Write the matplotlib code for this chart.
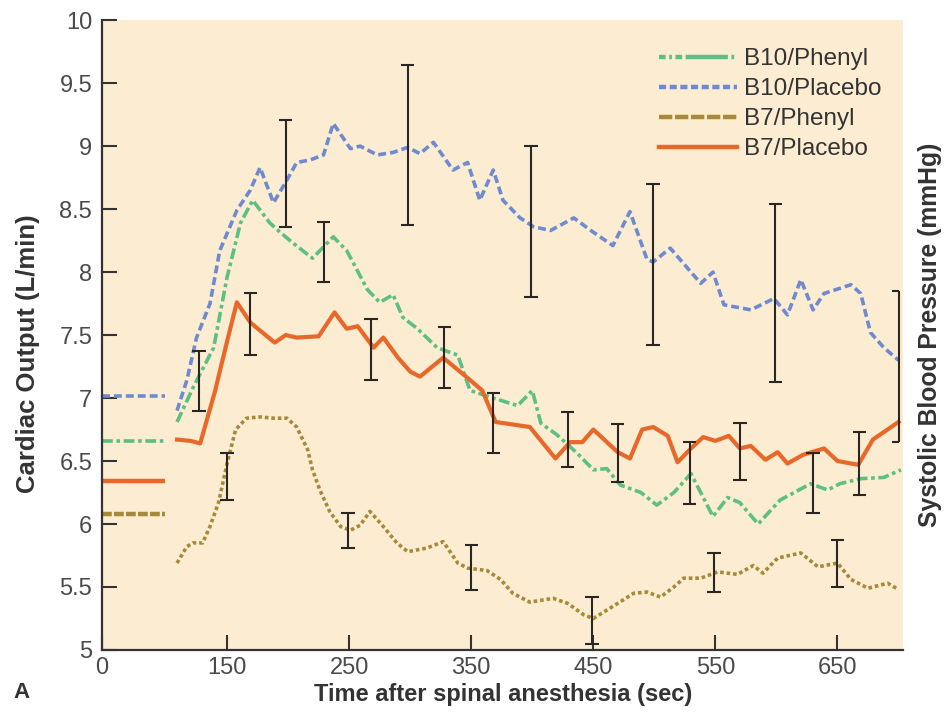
import numpy as np
import matplotlib.pyplot as plt
from matplotlib.lines import Line2D

plt.rcParams['font.family'] = ['Liberation Sans', 'DejaVu Sans']

# baseline values (left of the axis break)
base_b10_phenyl = 6.66
base_b10_placebo = 7.02
base_b7_phenyl = 6.08
base_b7_placebo = 6.34

# B10/Phenyl
t_b10_phenyl = [109, 122, 139, 150, 161, 171, 185, 193, 204, 220, 237, 248, 265, 275, 286,
                294, 306, 322, 339, 349, 368, 388, 400, 407, 420, 437, 450, 461, 472, 489,
                502, 516, 530, 548, 560, 570, 585, 603, 628, 642, 652, 669, 688, 702]
v_b10_phenyl = [6.81, 7.08, 7.4, 7.96, 8.39, 8.57, 8.39, 8.32, 8.23, 8.11, 8.28, 8.17, 7.86,
                7.76, 7.82, 7.64, 7.55, 7.4, 7.34, 7.06, 7.0, 6.94, 7.06, 6.8, 6.71, 6.56,
                6.43, 6.44, 6.31, 6.25, 6.15, 6.25, 6.4, 6.06, 6.21, 6.17, 6.0, 6.19, 6.32,
                6.27, 6.32, 6.36, 6.37, 6.43]

# B10/Placebo
t_b10_placebo = [109, 117, 125, 136, 144, 158, 169, 177, 188, 199, 207, 218, 229, 237, 251,
                 259, 273, 286, 298, 308, 319, 335, 347, 357, 368, 376, 390, 401, 415, 434,
                 448, 466, 480, 494, 499, 513, 538, 548, 557, 579, 598, 609, 620, 630, 639,
                 661, 669, 677, 688, 700]
v_b10_placebo = [6.9, 7.14, 7.48, 7.75, 8.17, 8.49, 8.65, 8.83, 8.55, 8.73, 8.87, 8.89, 8.93,
                 9.18, 8.98, 9.0, 8.93, 8.95, 8.99, 8.94, 9.03, 8.81, 8.87, 8.57, 8.81, 8.57,
                 8.43, 8.36, 8.33, 8.43, 8.33, 8.21, 8.48, 8.1, 8.08, 8.19, 7.91, 8.0, 7.74,
                 7.7, 7.79, 7.66, 7.94, 7.7, 7.83, 7.9, 7.83, 7.52, 7.4, 7.3]

# B7/Phenyl
t_b7_phenyl = [109, 117, 122, 130, 136, 143, 150, 157, 166, 177, 188, 199, 207, 216, 220,
               226, 234, 243, 251, 259, 267, 278, 289, 298, 314, 327, 339, 347, 363, 374,
               384, 398, 417, 429, 442, 450, 470, 483, 494, 505, 516, 524, 538, 552, 568,
               581, 589, 601, 620, 634, 650, 661, 675, 691, 700]
v_b7_phenyl = [5.69, 5.82, 5.85, 5.85, 5.98, 6.17, 6.48, 6.75, 6.84, 6.85, 6.84, 6.84, 6.77,
               6.59, 6.43, 6.27, 6.1, 5.98, 5.95, 5.99, 6.1, 5.98, 5.85, 5.78, 5.81, 5.86,
               5.69, 5.65, 5.63, 5.56, 5.45, 5.38, 5.41, 5.37, 5.28, 5.25, 5.37, 5.45, 5.46,
               5.42, 5.5, 5.57, 5.57, 5.62, 5.6, 5.67, 5.61, 5.73, 5.77, 5.66, 5.69, 5.56,
               5.49, 5.53, 5.48]

# B7/Placebo
t_b7_placebo = [109, 120, 128, 140, 150, 158, 169, 179, 189, 198, 207, 225, 238, 248, 257,
                270, 278, 290, 300, 308, 327, 347, 359, 370, 398, 419, 431, 441, 450, 470,
                480, 490, 499, 511, 519, 530, 540, 550, 561, 570, 579, 591, 601, 609, 622,
                639, 650, 667, 679, 700]
v_b7_placebo = [6.67, 6.66, 6.64, 7.05, 7.45, 7.76, 7.6, 7.52, 7.44, 7.5, 7.48, 7.49, 7.68,
                7.55, 7.57, 7.4, 7.48, 7.32, 7.21, 7.17, 7.32, 7.16, 7.06, 6.81, 6.77, 6.52,
                6.65, 6.65, 6.75, 6.57, 6.52, 6.75, 6.77, 6.7, 6.49, 6.6, 6.69, 6.66, 6.7,
                6.6, 6.62, 6.51, 6.57, 6.48, 6.55, 6.6, 6.5, 6.47, 6.67, 6.81]

# error bars: x, top, bottom
err_t = [127, 150, 169, 198, 229, 249, 268, 298, 328, 350, 368, 399, 429, 449, 470, 499,
         529, 549, 570, 599, 630, 650, 668]
err_top = [7.37, 6.56, 7.83, 9.21, 8.4, 6.09, 7.63, 9.64, 7.56, 5.83, 7.04, 9.0, 6.89, 5.42,
           6.79, 8.7, 6.65, 5.77, 6.8, 8.54, 6.56, 5.87, 6.73]
err_bot = [6.9, 6.19, 7.34, 8.36, 7.92, 5.81, 7.14, 8.37, 7.08, 5.48, 6.56, 7.8, 6.45, 5.05,
           6.33, 7.42, 6.16, 5.46, 6.35, 7.13, 6.09, 5.5, 6.23]
# last bar at the right edge, drawn with a half cap
edge_t, edge_top, edge_bot = 700, 7.85, 6.65

x_ticks = [47.5, 150, 250, 350, 450, 550, 650]
x_labels = ['0', '150', '250', '350', '450', '550', '650']
y_ticks = [5, 5.5, 6, 6.5, 7, 7.5, 8, 8.5, 9, 9.5, 10]
y_labels = ['5', '5.5', '6', '6.5', '7', '7.5', '8', '8.5', '9', '9.5', '10']

c_green = '#5DBF83'
c_blue = '#6F8AD0'
c_olive = '#A68A3A'
c_orange = '#E8682A'
c_bar = '#2b2622'
c_text = '#333333'

fig = plt.figure(figsize=(9.44, 7.19), dpi=100)
ax = fig.add_axes([0.108, 0.096, 0.849, 0.876])
ax.set_facecolor('#FCEDD2')

lw = 2.6
base_x = [47.5, 99]
ax.plot(base_x, [base_b10_placebo] * 2, color=c_blue, lw=lw, dashes=(2.2, 1.1))
ax.plot(base_x, [base_b10_phenyl] * 2, color=c_green, lw=lw, dashes=(3.0, 1.0, 1.0, 1.0))
ax.plot(base_x, [base_b7_placebo] * 2, color=c_orange, lw=lw + 0.6, solid_capstyle='butt')
ax.plot(base_x, [base_b7_phenyl] * 2, color=c_olive, lw=lw + 0.6, dashes=(2.2, 0.5))

ax.plot(t_b10_placebo, v_b10_placebo, color=c_blue, lw=lw, dashes=(2.2, 1.1))
ax.plot(t_b10_phenyl, v_b10_phenyl, color=c_green, lw=lw, dashes=(3.0, 1.0, 1.0, 1.0))
ax.plot(t_b7_phenyl, v_b7_phenyl, color=c_olive, lw=lw, dashes=(1.0, 0.8))
ax.plot(t_b7_placebo, v_b7_placebo, color=c_orange, lw=lw + 0.4)

# error bars
cap = 5.5
ax.vlines(err_t, err_bot, err_top, color=c_bar, lw=1.5)
ax.hlines(err_top, np.array(err_t) - cap, np.array(err_t) + cap, color=c_bar, lw=1.5)
ax.hlines(err_bot, np.array(err_t) - cap, np.array(err_t) + cap, color=c_bar, lw=1.5)
ax.vlines(edge_t, edge_bot, edge_top, color=c_bar, lw=1.5)
ax.hlines([edge_top, edge_bot], edge_t - cap, edge_t, color=c_bar, lw=1.5)

ax.set_xlim(47.5, 704)
ax.set_ylim(5, 10)
ax.set_xticks(x_ticks)
ax.set_xticklabels(x_labels)
ax.set_yticks(y_ticks)
ax.set_yticklabels(y_labels)
ax.tick_params(direction='in', length=11, width=1.5, color=c_text,
               labelsize=17, labelcolor='#4a4a4a', pad=7)
ax.tick_params(axis='x', pad=5)

for s in ['top', 'right']:
    ax.spines[s].set_visible(False)
for s in ['left', 'bottom']:
    ax.spines[s].set_color(c_text)
    ax.spines[s].set_linewidth(1.6)

ax.set_xlabel('Time after spinal anesthesia (sec)', fontsize=17, fontweight='bold',
              color=c_text, va='center')
ax.xaxis.set_label_coords(0.5, -0.07)
ax.set_ylabel('Cardiac Output (L/min)', fontsize=18.5, fontweight='bold',
              color=c_text, va='center')
ax.yaxis.set_label_coords(-0.092, 0.471)
fig.text(0.985, 0.535, 'Systolic Blood Pressure (mmHg)', rotation=90, fontsize=17.8,
         fontweight='bold', color=c_text, ha='center', va='center')
fig.text(0.014, 0.037, 'A', fontsize=16, fontweight='bold', color=c_text,
         ha='left', va='center')

handles = [
    Line2D([], [], color=c_green, lw=3.2, dashes=(1.5, 0.8, 0.6, 0.8, 1.5, 0.8, 8, 0)),
    Line2D([], [], color=c_blue, lw=3.2, dashes=(1.6, 0.8)),
    Line2D([], [], color=c_olive, lw=3.2, dashes=(3.0, 0.6)),
    Line2D([], [], color=c_orange, lw=3.2),
]
ax.legend(handles, ['B10/Phenyl', 'B10/Placebo', 'B7/Phenyl', 'B7/Placebo'],
          loc='upper right', bbox_to_anchor=(1.0, 0.99), frameon=False,
          fontsize=17.5, handlelength=3.2, handletextpad=0.3, labelspacing=0.33,
          labelcolor=c_text)

fig.savefig('out.png', dpi=100)
